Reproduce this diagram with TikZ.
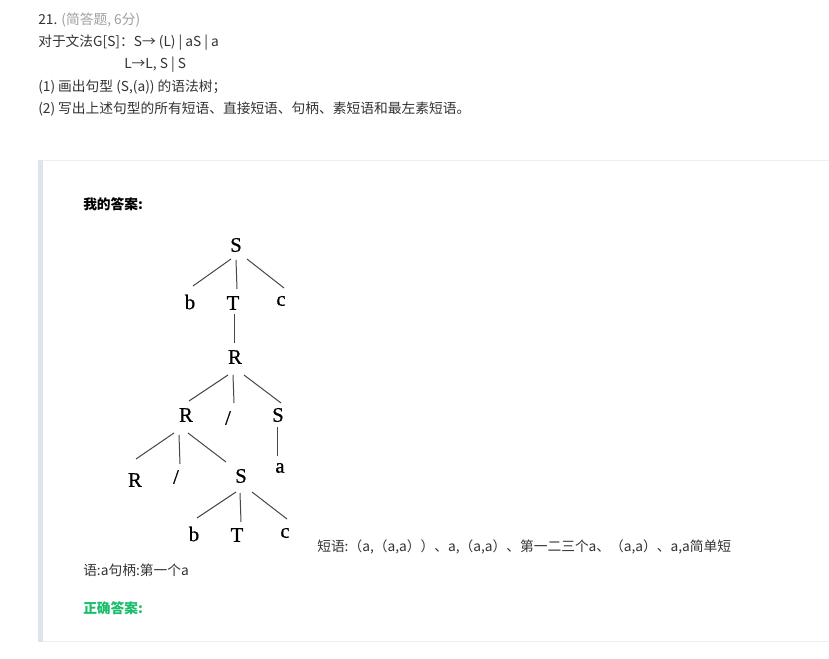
\documentclass[tikz,border=0pt]{standalone}
\usepackage{fontspec}
\usetikzlibrary{calc}
\setmainfont{Noto Sans CJK SC}
\newfontfamily\treefont[FakeBold=0.6]{Liberation Serif}
\definecolor{txtcol}{RGB}{51,51,51}
\definecolor{graytxt}{RGB}{160,160,160}
\definecolor{barcol}{RGB}{222,227,237}
\definecolor{linecol}{RGB}{238,238,242}
\definecolor{okgreen}{RGB}{25,190,107}
\begin{document}
\begin{tikzpicture}[x=0.75pt,y=-0.75pt,
  txt/.style={anchor=west, inner sep=0pt, font=\fontsize{10.3}{12}\selectfont, text=txtcol},
  tl/.style={font=\treefont\fontsize{15.5}{15.5}\selectfont, inner sep=1pt},
  te/.style={draw=black!72, line width=0.75pt}]
\useasboundingbox (0,0) rectangle (829,659);
\fill[white] (0,0) rectangle (829,659);
% answer box
\fill[barcol] (38,160) rectangle (43,642);
\draw[linecol] (43,160.5) -- (829,160.5);
\draw[linecol] (43,641.5) -- (829,641.5);
% question
\node[txt] (q1) at (38,20) {21. \textcolor{graytxt}{(简答题, 6分)}};
\node[txt] (q2) at (38,43) {对于文法G[S]：S→ (L) | aS | a};
\node[txt] (q3) at (124,65) {L→L, S | S};
\node[txt] (q4) at (38,87) {(1) 画出句型 (S,(a)) 的语法树；};
\node[txt] (q5) at (38,109) {(2) 写出上述句型的所有短语、直接短语、句柄、素短语和最左素短语。};
\node[txt, text=black, font=\fontsize{10.3}{12}\selectfont\bfseries] (my) at (83,204) {我的答案:};
% tree
\node[tl] (S1) at (236,245) {S};
\node[tl] (b1) at (190,302) {b};
\node[tl] (T1) at (233,303) {T};
\node[tl] (c1) at (281,301) {c};
\node[tl] (R1) at (235,357) {R};
\node[tl] (R2) at (186,415) {R};
\node[tl] (sl1) at (228,418) {/};
\node[tl] (S2) at (278,415) {S};
\node[tl] (R3) at (135,480) {R};
\node[tl] (sl2) at (176,477) {/};
\node[tl] (S3) at (241,476) {S};
\node[tl] (a1) at (280,468) {a};
\node[tl] (b2) at (194,534) {b};
\node[tl] (T2) at (237,535) {T};
\node[tl] (c2) at (285,533) {c};
\draw[te] ($(S1)+(-5,14)$) -- ($(b1)+(3,-16)$);
\draw[te] ($(S1)+(0,15)$) -- ($(T1)+(4,-14)$);
\draw[te] ($(S1)+(11,14)$) -- ($(c1)+(3,-13)$);
\draw[te] ($(T1)+(1,11)$) -- ($(R1)+(-1,-14)$);
\draw[te] ($(R1)+(-7,18)$) -- ($(R2)+(3,-14)$);
\draw[te] ($(R1)+(-2,18)$) -- ($(sl1)+(6,-15)$);
\draw[te] ($(R1)+(9,18)$) -- ($(S2)+(3,-12)$);
\draw[te] ($(S2)+(-1,12)$) -- ($(a1)+(-3,-12)$);
\draw[te] ($(R2)+(-12,18)$) -- ($(R3)+(1,-21)$);
\draw[te] ($(R2)+(-7,20)$) -- ($(sl2)+(4,-13)$);
\draw[te] ($(R2)+(2,18)$) -- ($(S3)+(-15,-14)$);
\draw[te] ($(S3)+(-5,16)$) -- ($(b2)+(3,-16)$);
\draw[te] ($(S3)+(-1,17)$) -- ($(T2)+(4,-13)$);
\draw[te] ($(S3)+(11,16)$) -- ($(c2)+(2,-14)$);
% answer text
\node[txt] (ans1) at (317,547) {短语:（a,（a,a））、a,（a,a）、第一二三个a、（a,a）、a,a简单短};
\node[txt] (ans2) at (83,570) {语:a句柄:第一个a};
\node[txt, text=okgreen, font=\fontsize{10.3}{12}\selectfont\bfseries] (ok) at (83,608) {正确答案:};
\end{tikzpicture}
\end{document}
